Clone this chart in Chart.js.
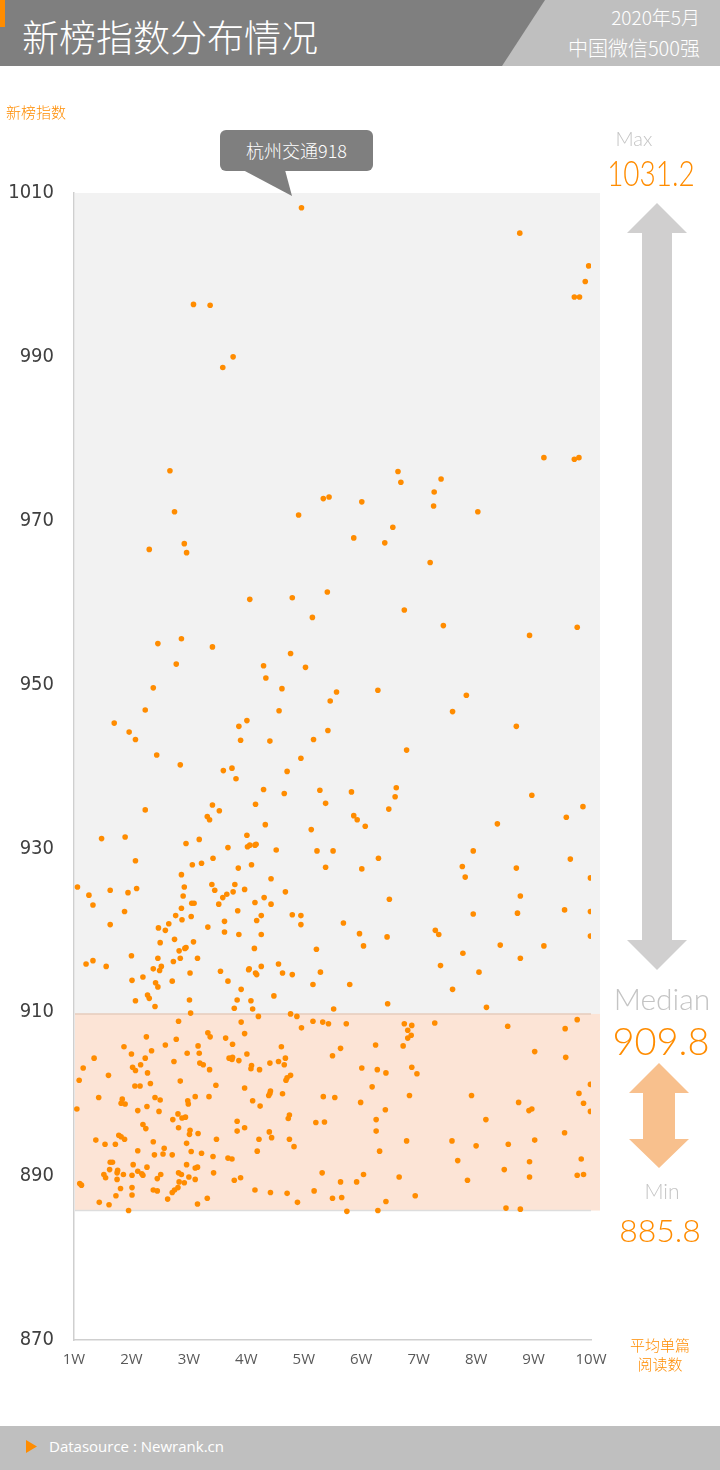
<!DOCTYPE html>
<html>
<head>
<meta charset="utf-8">
<script src="https://cdn.jsdelivr.net/npm/chart.js@4"></script>
<style>
  html, body { margin: 0; padding: 0; background: #fff; }
  #page { position: relative; width: 720px; height: 1470px; overflow: hidden; font-family: Lato, "Noto Sans CJK SC", sans-serif; }
  #wrap { position: absolute; left: 0; top: 0; width: 720px; height: 1470px; }
  .abs { position: absolute; white-space: nowrap; }
  .cjk { font-family: "Noto Sans CJK SC", sans-serif; font-weight: 300; }
  .light { font-family: Lato, sans-serif; font-weight: 300; }
  .mid { transform: translate(-50%, -50%); }
  .orange { color: #ff8c00; }
  .pale { color: #c4c4c4; }
</style>
</head>
<body>
<div id="page">
  <div id="wrap"><canvas id="scatterChart"></canvas></div>

  <!-- header -->
  <div class="abs" style="left:0;top:0;width:720px;height:66px;background:#7f7f7f"></div>
  <div class="abs" style="left:500px;top:0;width:220px;height:66px;background:#bfbfbf;clip-path:polygon(45px 0,220px 0,220px 66px,2px 66px)"></div>
  <div class="abs" style="left:0;top:0;width:5px;height:27px;background:#ff8c00"></div>
  <div class="abs cjk" style="left:22px;top:9px;line-height:54px;font-size:37px;color:#fff">新榜指数分布情况</div>
  <div class="abs cjk" style="right:20px;top:5px;line-height:24px;font-size:19px;color:#fff">2020年5月</div>
  <div class="abs cjk" style="right:20px;top:36px;line-height:24px;font-size:20px;color:#fff">中国微信500强</div>

  <div class="abs cjk orange" style="left:6px;top:102px;line-height:20px;font-size:15px">新榜指数</div>

  <!-- callout -->
  <div class="abs cjk" style="left:220px;top:130px;width:153px;height:41px;line-height:41px;border-radius:6px;background:#7f7f7f;color:#fff;font-size:18px;text-align:center">杭州交通918</div>
  <div class="abs" style="left:243px;top:170px;width:50px;height:26px;background:#7f7f7f;clip-path:polygon(0 0,42px 0,49px 26px)"></div>

  <!-- right panel -->
  <div class="abs light pale mid" style="left:634px;top:138px;font-size:20px">Max</div>
  <div class="abs light orange" style="left:651px;top:172px;font-size:35px;transform:translate(-50%,-50%) scaleX(0.8)">1031.2</div>
  <svg class="abs" style="left:620px;top:200px" width="80" height="775">
    <polygon points="37,3 67,33 52,33 52,740 67,740 37,770 7,740 22,740 22,33 7,33" fill="#d0cfcf"/>
  </svg>
  <div class="abs light pale mid" style="left:662px;top:998px;font-size:30px">Median</div>
  <div class="abs light orange mid" style="left:661px;top:1040px;font-size:38px">909.8</div>
  <svg class="abs" style="left:620px;top:1060px" width="80" height="112">
    <polygon points="39,3 69,33 55,33 55,79 69,79 39,108 9,79 23,79 23,33 9,33" fill="#f8c08d"/>
  </svg>
  <div class="abs light pale mid" style="left:662px;top:1190px;font-size:21px">Min</div>
  <div class="abs light orange mid" style="left:660px;top:1229px;font-size:32px">885.8</div>

  <div class="abs cjk orange" style="left:622px;top:1335px;line-height:19px;font-size:15px;text-align:center;width:76px">平均单篇<br>阅读数</div>

  <!-- footer -->
  <div class="abs" style="left:0;top:1426px;width:720px;height:44px;background:#bfbfbf"></div>
  <div class="abs" style="left:26px;top:1440px;width:11px;height:13px;background:#ff8c00;clip-path:polygon(0 0,100% 50%,0 100%)"></div>
  <div class="abs" style="left:49px;top:1436px;line-height:20px;font-size:15px;color:#fff;font-family:'Open Sans',sans-serif">Datasource : Newrank.cn</div>
</div>

<script>
// 平均单篇阅读数 (万) / 新榜指数
const POINTS = [
  [4.96,1008.2],[3.08,996.4],[3.37,996.3],[3.77,990.0],[3.59,988.7],[2.67,976.1],[2.75,971.1],[4.91,970.7],[5.34,972.7],[5.44,972.9],
  [8.76,1005.1],[9.96,1001.1],[9.90,999.2],[9.71,997.3],[9.80,997.3],[9.18,977.7],[9.71,977.5],[9.79,977.7],[6.01,972.3],[6.64,976.0],
  [6.69,974.7],[7.39,975.1],[7.27,973.5],[7.26,971.8],[8.03,971.1],[6.55,969.2],[5.87,967.9],
  [2.31,966.5],[2.92,967.2],[2.96,966.1],[4.06,960.4],[4.80,960.6],[5.41,961.3],[5.15,958.2],[2.46,955.0],[2.87,955.6],[3.41,954.6],
  [4.77,953.8],[2.78,952.5],[4.30,952.3],[5.03,952.1],[4.34,950.8],[2.38,949.6],[4.62,949.5],[5.57,949.1],[5.46,948.0],[2.24,946.9],
  [4.57,946.8],[1.70,945.3],[4.01,945.6],[3.87,944.9],[1.96,944.2],[2.07,943.3],[3.90,943.2],[4.41,943.1],[5.17,943.3],[5.42,944.4],
  [2.44,941.4],[2.85,940.2],[4.95,941.0],[3.60,939.5],[3.75,939.8],[3.82,938.5],[4.71,939.4],[4.30,937.2],[4.66,936.7],[5.28,937.1],
  [5.38,935.5],[2.24,934.7],[3.41,935.3],[3.53,934.6],[4.16,935.4],[3.32,933.9],[3.36,933.5],[4.33,932.9],[5.13,932.3],[1.48,931.2],
  [1.89,931.4],[4.01,931.6],[2.95,930.6],[3.18,931.1],[3.68,930.1],[4.02,930.2],[4.06,930.4],[4.15,930.4],[4.17,930.5],[4.52,929.8],
  [5.23,929.7],[5.51,929.7],[3.42,928.8],[2.07,928.5],
  [6.41,967.3],[7.20,964.9],[6.75,959.1],[7.43,957.2],[8.93,956.0],[9.76,957.0],[6.29,949.3],[7.83,948.7],[7.59,946.7],[8.70,944.9],
  [6.79,942.0],[5.83,936.9],[6.61,937.4],[6.59,936.3],[6.48,934.8],[8.97,936.5],[9.86,935.1],[9.57,933.8],[5.87,934.0],[5.93,933.5],
  [6.07,932.7],[8.37,933.0],[6.30,928.8],[7.95,929.7],[9.64,928.7],
  [3.06,928.0],[3.22,928.2],[2.87,926.8],[1.06,925.3],[2.92,925.3],[1.26,924.3],[1.63,924.9],[1.94,924.6],[2.09,925.1],[2.90,924.2],
  [1.33,923.1],[3.05,923.3],[3.09,923.3],[1.88,922.3],[2.87,922.7],[2.77,921.8],[3.04,921.7],[2.88,921.3],[1.63,920.7],[2.65,920.8],
  [2.47,920.3],[2.59,920.0],[2.75,918.9],[2.50,918.5],[3.08,918.6],[2.93,917.8],[2.95,917.9],[2.83,917.5],[2.00,916.9],[1.21,915.9],
  [1.33,916.3],[1.56,915.6],[2.46,916.6],[2.85,916.6],[2.73,916.2],[3.15,916.6],[2.52,915.6],[2.49,915.1],[2.38,915.3],[3.02,914.8],
  [2.01,913.9],[2.20,914.3],[2.42,913.6],[2.46,913.1],[2.71,913.8],[2.28,912.1],[2.31,911.7],[2.07,911.4],[3.01,911.5],[2.41,910.7],
  [3.03,909.9],[2.82,908.9],
  [3.86,927.6],[4.09,928.0],[5.38,927.7],[3.40,925.6],[3.45,924.9],[3.80,925.6],[3.77,924.7],[3.97,925.0],[4.43,926.3],[3.66,924.4],
  [3.59,924.0],[4.68,924.7],[4.31,924.0],[4.15,923.4],[4.43,923.2],[3.52,923.2],[3.85,922.4],[4.26,921.8],[4.80,921.9],[4.95,921.8],
  [4.18,921.2],[3.62,921.1],[4.95,920.7],[3.33,920.4],[3.62,919.8],[3.87,919.5],[4.26,919.5],[4.14,917.8],[5.22,917.7],[3.55,915.0],
  [4.04,915.2],[4.05,915.3],[4.16,914.8],[4.18,914.6],[4.26,915.6],[4.56,915.9],[4.63,914.8],[4.80,914.6],[5.29,914.9],[3.68,913.8],
  [5.16,913.4],[3.91,912.8],[3.84,911.5],[4.08,911.4],[4.48,912.0],[3.79,910.5],[4.11,910.4],[5.52,910.4],[4.21,909.5],[4.77,909.8],
  [4.88,909.5],[3.91,908.8],[5.16,908.9],[5.33,908.8],[5.43,908.6],[4.96,908.1],[3.33,907.5],[3.97,907.4],
  [2.26,907.0],[2.78,906.7],[1.87,905.8],[2.59,906.0],[3.16,905.9],[2.35,905.3],[2.00,904.9],[1.35,904.4],[2.97,905.0],[3.18,905.0],
  [2.24,904.4],[2.74,904.0],[2.16,903.6],[3.19,903.8],[3.25,903.6],[2.02,903.3],[2.07,902.9],[1.16,903.2],[1.60,902.3],[2.28,902.6],
  [1.09,901.7],[2.85,901.6],[2.33,901.3],[2.06,901.0],[2.15,901.0],[1.43,899.6],[1.84,899.4],[1.82,898.9],[1.89,898.8],[2.41,899.6],
  [2.50,899.3],[3.11,899.7],[2.98,899.2],[2.99,898.8],[2.27,898.5],[1.05,898.2],[2.11,898.0],[2.48,897.9],[2.81,897.6],[2.94,897.2],
  [2.88,897.1],[2.72,896.9],[2.20,896.3],[2.25,895.8],[2.82,895.9],[3.02,895.6],[3.01,895.1],[3.16,895.2],[1.78,895.0],[1.82,894.8],
  [1.88,894.5],[1.38,894.4],[1.54,893.9],[1.72,893.9],[2.38,894.2],[2.96,894.0],[2.57,893.4],[2.11,893.1],[3.04,893.0],[3.22,892.8],
  [2.40,892.6],[2.55,892.7],[2.71,892.6],[1.63,891.7],[1.67,891.7],[2.03,891.4],[2.27,891.1],[2.96,891.4],[3.11,891.0],[3.15,891.1],
  [1.62,890.8],[1.76,890.7],[1.75,890.4],[2.11,890.6],[2.18,890.3],[2.20,890.1],[1.52,890.2],[1.55,889.8],[1.86,890.2],[2.01,890.1],
  [2.51,890.2],[2.82,890.4],[2.87,890.2],[3.00,889.9],[3.11,889.6],[1.75,889.6],[2.45,889.7],[1.10,889.1],[1.13,888.9],[2.83,889.3],
  [2.92,889.2],[1.81,888.5],[2.01,888.6],[2.81,888.6],[2.38,888.3],[2.45,888.2],[2.71,888.0],[2.75,888.3],[1.73,887.6],[2.01,887.7],
  [2.63,887.2],[1.44,886.8],[1.61,886.5],[3.15,886.6],[1.95,885.8],
  [3.37,907.0],[3.64,906.85],[3.76,906.1],[4.61,905.8],[4.01,904.9],[3.70,904.4],[3.76,904.5],[3.75,904.25],[3.87,904.1],[4.41,903.8],
  [4.56,904.0],[4.68,904.4],[4.66,903.6],[5.50,904.7],[4.09,903.5],[4.08,903.1],[4.23,903.0],[3.36,903.0],[4.77,902.3],[4.71,902.0],
  [4.69,901.7],[3.47,901.1],[3.97,900.75],[4.42,900.4],[4.41,900.1],[4.39,899.85],[4.63,900.05],[3.35,899.7],[5.34,899.7],[5.54,899.6],
  [4.11,899.2],[4.24,898.55],[4.75,897.45],[4.73,897.04],[3.84,896.7],[5.21,896.55],[5.36,896.6],[3.84,895.5],[3.97,895.9],[4.40,895.4],
  [4.44,894.7],[3.48,894.5],[4.22,894.5],[4.75,894.5],[4.83,893.6],[4.19,893.05],[3.42,892.4],[3.68,892.2],[3.75,892.1],[3.43,890.4],
  [5.32,890.4],[3.79,889.5],[3.90,889.8],[4.15,888.3],[4.42,888.0],[4.71,887.9],[5.18,888.2],[3.32,887.3],[4.89,886.8],[5.50,887.3],
  [6.01,927.5],[7.76,927.8],[8.70,927.6],[7.81,926.5],[9.99,926.4],[6.49,923.8],[8.77,924.2],[7.95,922.0],[8.72,922.1],[9.54,922.5],
  [9.99,922.3],[5.69,920.9],[5.97,919.6],[6.45,919.2],[7.29,920.0],[7.35,919.5],[9.99,919.3],[6.04,918.1],[8.42,918.2],[9.18,918.1],
  [7.77,917.2],[8.77,916.6],[7.38,915.7],[8.05,914.9],[5.80,913.4],[7.59,912.8],[6.46,911.05],[8.18,910.6],[5.74,908.6],[6.75,908.6],
  [6.88,908.4],[6.81,907.8],[6.87,907.2],[7.28,908.7],[8.55,908.3],[9.55,908.0],[9.76,909.1],
  [6.81,906.85],[5.64,905.6],[6.25,906.0],[6.73,905.9],[9.02,905.2],[9.56,904.5],[6.01,903.2],[6.28,903.0],[6.43,902.6],[6.88,903.3],
  [6.97,902.5],[6.19,900.9],[6.84,899.85],[7.92,899.85],[9.99,901.2],[9.79,900.1],[5.99,899.0],[8.74,899.0],[9.87,898.9],[6.42,898.1],
  [8.92,898.0],[8.97,898.2],[9.99,897.9],[6.26,896.9],[8.17,896.9],[6.26,895.5],[9.54,895.3],[6.79,894.3],[7.58,894.3],[8.00,893.7],
  [8.56,893.9],[9.02,894.4],[6.32,893.05],[7.68,891.9],[8.93,891.75],[9.83,892.1],[8.49,890.8],[8.93,889.9],[9.76,890.1],[9.87,890.2],
  [6.04,890.2],[5.64,889.3],[5.92,889.3],[6.66,889.9],[7.85,889.5],[5.66,887.4],[6.43,886.9],[6.94,887.6],[5.75,885.7],[6.29,885.8],
  [8.52,886.1],[8.77,885.97]
];

const X_TICKS = [1, 2, 3, 4, 5, 6, 7, 8, 9, 10];
const Y_TICKS = [870, 890, 910, 930, 950, 970, 990, 1010];
const STAT_MAX = 1031.2;
const STAT_MEDIAN = 909.8;
const STAT_MIN = 885.8;

// bandas de fondo: mediana-max en gris, min-mediana en naranja
const bandsPlugin = {
  id: 'bands',
  beforeDatasetsDraw(chart) {
    const { ctx, chartArea: a, scales: { y } } = chart;
    const yTop = y.getPixelForValue(Math.min(STAT_MAX, y.max));
    const yMed = y.getPixelForValue(STAT_MEDIAN);
    const yMin = y.getPixelForValue(STAT_MIN);
    const left = a.left + 1;
    const right = a.right + 9;
    ctx.save();
    ctx.fillStyle = '#f2f2f2';
    ctx.fillRect(left, yTop, right - left, yMed - yTop);
    ctx.fillStyle = '#fce4d6';
    ctx.fillRect(left, yMed, right - left, yMin - yMed);
    ctx.lineWidth = 1.5;
    ctx.strokeStyle = '#e6cdbd';
    ctx.beginPath(); ctx.moveTo(left, yMed); ctx.lineTo(a.right, yMed); ctx.stroke();
    ctx.strokeStyle = '#dddddd';
    ctx.beginPath(); ctx.moveTo(left, yMin); ctx.lineTo(a.right, yMin); ctx.stroke();
    ctx.restore();
  }
};

const ctx = document.getElementById('scatterChart').getContext('2d');
new Chart(ctx, {
  type: 'scatter',
  data: {
    datasets: [{
      data: POINTS.map(p => ({ x: p[0], y: p[1] })),
      backgroundColor: '#ff8c00',
      borderWidth: 0,
      pointRadius: 2.8,
      pointHoverRadius: 2.8
    }]
  },
  options: {
    responsive: true,
    maintainAspectRatio: false,
    animation: false,
    events: [],
    layout: { padding: { top: 193, right: 129, bottom: 100, left: 0 } },
    plugins: { legend: { display: false }, tooltip: { enabled: false } },
    scales: {
      x: {
        type: 'linear',
        min: 1,
        max: 10,
        afterBuildTicks: axis => { axis.ticks = X_TICKS.map(v => ({ value: v })); },
        afterFit: axis => { axis.height = 30; },
        ticks: {
          callback: v => v + 'W',
          color: '#595959',
          padding: 11,
          maxRotation: 0,
          autoSkip: false,
          font: { size: 15, family: "'Open Sans', sans-serif" }
        },
        grid: { drawOnChartArea: false, drawTicks: false },
        border: { color: '#cfcfcf', width: 1.5 }
      },
      y: {
        min: 870,
        max: 1010,
        afterBuildTicks: axis => { axis.ticks = Y_TICKS.map(v => ({ value: v })); },
        afterFit: axis => { axis.width = 74; },
        ticks: {
          callback: v => String(v),
          color: '#404040',
          padding: 20,
          autoSkip: false,
          font: { size: 20, family: "'Liberation Sans Narrow', 'DejaVu Sans Condensed', sans-serif" }
        },
        grid: { drawOnChartArea: false, drawTicks: false },
        border: { color: '#cfcfcf', width: 1.5 }
      }
    }
  },
  plugins: [bandsPlugin]
});
</script>
</body>
</html>
